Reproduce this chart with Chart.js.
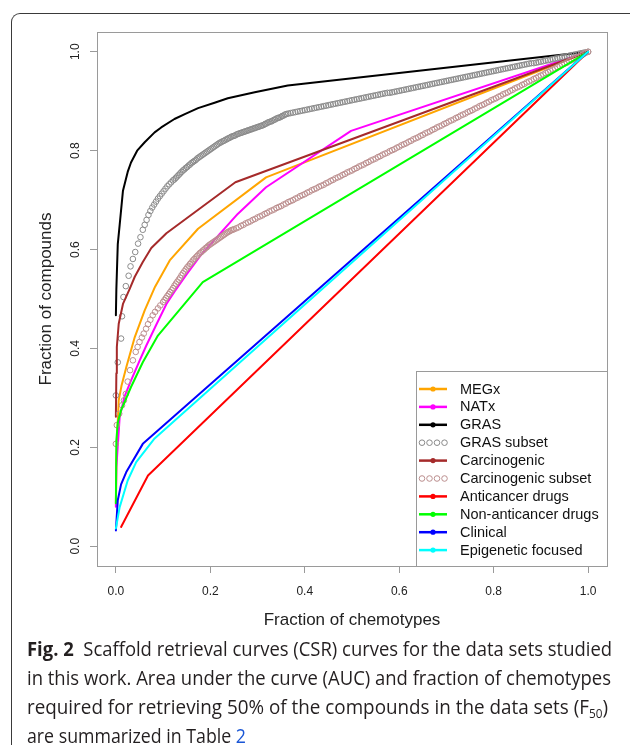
<!DOCTYPE html>
<html>
<head>
<meta charset="utf-8">
<script src="https://cdn.jsdelivr.net/npm/chart.js"></script>
<style>
  html, body { margin: 0; padding: 0; background: #fff; }
  body { width: 630px; height: 745px; position: relative; overflow: hidden; }
  #chart { position: absolute; left: 0; top: 0; }
  #frame {
    position: absolute; left: 11px; top: 13px; width: 640px; height: 760px;
    border-left: 1.5px solid #3a3a3a; border-top: 1.5px solid #3a3a3a;
    border-top-left-radius: 9px; box-sizing: border-box;
  }
  #caption {
    position: absolute; left: 27px; top: 634px; width: 700px;
    font-family: "Open Sans", sans-serif; font-size: 20px; line-height: 29px; color: #231f20;
  }
  #caption .ln { height: 29px; white-space: nowrap; }
  #caption .ln span.t { display: inline-block; transform-origin: 0 50%; }
  #caption sub { font-size: 12.5px; line-height: 0; vertical-align: -4px; }
  #caption .ref { color: #1a56d6; }
</style>
</head>
<body>
<canvas id="chart" width="630" height="640"></canvas>
<div id="frame"></div>
<div id="caption">
  <div class="ln"><span class="t" data-w="585"><b>Fig. 2</b>&nbsp; Scaffold retrieval curves (CSR) curves for the data sets studied</span></div>
  <div class="ln"><span class="t" data-w="584">in this work. Area under the curve (AUC) and fraction of chemotypes</span></div>
  <div class="ln"><span class="t" data-w="581">required for retrieving 50% of the compounds in the data sets (F<sub>50</sub>)</span></div>
  <div class="ln"><span class="t" data-w="219">are summarized in Table <span class="ref">2</span></span></div>
</div>
<script>
// axes
const xTicks = [0, 0.2, 0.4, 0.6, 0.8, 1.0];
const xTickLabels = ["0.0", "0.2", "0.4", "0.6", "0.8", "1.0"];
const yTicks = [0, 0.2, 0.4, 0.6, 0.8, 1.0];
const yTickLabels = ["0.0", "0.2", "0.4", "0.6", "0.8", "1.0"];

const seriesNames = ["MEGx", "NATx", "GRAS", "GRAS subset", "Carcinogenic", "Carcinogenic subset",
  "Anticancer drugs", "Non-anticancer drugs", "Clinical", "Epigenetic focused"];

// line series (fraction of chemotypes -> fraction of compounds)
const megxX = [0, 0.001, 0.003, 0.006, 0.012, 0.022, 0.040, 0.061, 0.083, 0.114, 0.174, 0.318, 1];
const megxY = [0.085, 0.17, 0.23, 0.295, 0.325, 0.362, 0.423, 0.477, 0.525, 0.578, 0.642, 0.746, 1];

const natxX = [0, 0.001, 0.008, 0.018, 0.032, 0.050, 0.064, 0.085, 0.107, 0.124, 0.150, 0.181, 0.258, 0.318, 0.498, 1];
const natxY = [0.08, 0.16, 0.261, 0.302, 0.335, 0.375, 0.405, 0.447, 0.49, 0.515, 0.55, 0.59, 0.672, 0.726, 0.84, 1];

const grasX = [0, 0.001, 0.004, 0.008, 0.015, 0.025, 0.032, 0.045, 0.061, 0.082, 0.096, 0.124, 0.146, 0.174, 0.209, 0.237, 0.294, 0.364, 1];
const grasY = [0.467, 0.52, 0.611, 0.65, 0.719, 0.757, 0.776, 0.80, 0.817, 0.837, 0.847, 0.864, 0.874, 0.886, 0.897, 0.906, 0.918, 0.932, 1];

const carcX = [0, 0.001, 0.002, 0.006, 0.015, 0.029, 0.040, 0.057, 0.075, 0.107, 0.253, 1];
const carcY = [0.262, 0.35, 0.403, 0.45, 0.49, 0.52, 0.545, 0.575, 0.603, 0.633, 0.736, 1];

const antiX = [0.011, 0.068, 1];
const antiY = [0.039, 0.143, 1];

const nonAntiX = [0, 0.001, 0.004, 0.011, 0.032, 0.057, 0.089, 0.184, 1];
const nonAntiY = [0.087, 0.214, 0.25, 0.275, 0.322, 0.372, 0.426, 0.534, 1];

const clinX = [0, 0.004, 0.011, 0.022, 0.057, 1];
const clinY = [0.032, 0.093, 0.125, 0.15, 0.207, 1];

const epiX = [0, 0.008, 0.025, 0.043, 0.082, 1];
const epiY = [0.036, 0.079, 0.133, 0.17, 0.218, 1];

// point series, one circle per chemotype as seen in the figure: [x, y]
const grasSubset = [
  [0, 0.305], [0.004, 0.372], [0.011, 0.42], [0.013, 0.465], [0.016, 0.504], [0.021, 0.526],
  [0.027, 0.547], [0.031, 0.566], [0.036, 0.581], [0.041, 0.595], [0.047, 0.612], [0.052, 0.625],
  [0.057, 0.64], [0.061, 0.65], [0.065, 0.66], [0.069, 0.67], [0.073, 0.678], [0.077, 0.685],
  [0.081, 0.691], [0.085, 0.697], [0.089, 0.703], [0.093, 0.708], [0.097, 0.713], [0.101, 0.718],
  [0.105, 0.723], [0.109, 0.728], [0.113, 0.732], [0.117, 0.736], [0.121, 0.74], [0.124, 0.742],
  [0.127, 0.745], [0.130, 0.748], [0.133, 0.751], [0.136, 0.754], [0.139, 0.757], [0.142, 0.76],
  [0.145, 0.762], [0.148, 0.765], [0.151, 0.767], [0.154, 0.77], [0.157, 0.772], [0.160, 0.775],
  [0.163, 0.777], [0.166, 0.779], [0.169, 0.781], [0.172, 0.784], [0.175, 0.786], [0.178, 0.788],
  [0.181, 0.79], [0.184, 0.792], [0.187, 0.794], [0.190, 0.796], [0.193, 0.798], [0.196, 0.8],
  [0.199, 0.802], [0.202, 0.804], [0.205, 0.806], [0.208, 0.808], [0.211, 0.81], [0.214, 0.812],
  [0.217, 0.814], [0.220, 0.816], [0.223, 0.817], [0.226, 0.819], [0.229, 0.82], [0.232, 0.822],
  [0.235, 0.823], [0.238, 0.825], [0.241, 0.826], [0.244, 0.828], [0.247, 0.829], [0.250, 0.83],
  [0.253, 0.831], [0.256, 0.833], [0.259, 0.834], [0.262, 0.835], [0.265, 0.836], [0.268, 0.837],
  [0.271, 0.838], [0.274, 0.839], [0.277, 0.84], [0.280, 0.841], [0.283, 0.842], [0.286, 0.843],
  [0.289, 0.844], [0.292, 0.845], [0.295, 0.846], [0.298, 0.847], [0.301, 0.848], [0.304, 0.849],
  [0.307, 0.85], [0.310, 0.851], [0.313, 0.852], [0.316, 0.854], [0.319, 0.855], [0.322, 0.857],
  [0.325, 0.858], [0.328, 0.859], [0.331, 0.86], [0.334, 0.862], [0.337, 0.863], [0.340, 0.865],
  [0.343, 0.866], [0.346, 0.867], [0.349, 0.868], [0.352, 0.87], [0.355, 0.871], [0.358, 0.873],
  [0.361, 0.874], [0.365, 0.875], [0.370, 0.876], [0.375, 0.877], [0.380, 0.878], [0.385, 0.879],
  [0.390, 0.88], [0.395, 0.881], [0.400, 0.882], [0.405, 0.883], [0.410, 0.884], [0.415, 0.885],
  [0.420, 0.886], [0.425, 0.887], [0.430, 0.888], [0.435, 0.889], [0.440, 0.89], [0.445, 0.891],
  [0.450, 0.892], [0.455, 0.893], [0.460, 0.894], [0.465, 0.895], [0.470, 0.896], [0.475, 0.897],
  [0.480, 0.898], [0.485, 0.899], [0.490, 0.9], [0.495, 0.901], [0.500, 0.902], [0.505, 0.903],
  [0.510, 0.904], [0.515, 0.905], [0.520, 0.906], [0.525, 0.907], [0.530, 0.908], [0.535, 0.909],
  [0.540, 0.91], [0.545, 0.911], [0.550, 0.912], [0.555, 0.913], [0.560, 0.914], [0.565, 0.915],
  [0.570, 0.916], [0.575, 0.917], [0.580, 0.917], [0.585, 0.918], [0.590, 0.919], [0.595, 0.92],
  [0.600, 0.921], [0.605, 0.922], [0.610, 0.923], [0.615, 0.924], [0.620, 0.925], [0.625, 0.926],
  [0.630, 0.927], [0.635, 0.928], [0.640, 0.929], [0.645, 0.93], [0.650, 0.931], [0.655, 0.932],
  [0.660, 0.933], [0.665, 0.934], [0.670, 0.935], [0.675, 0.936], [0.680, 0.937], [0.685, 0.938],
  [0.690, 0.939], [0.695, 0.94], [0.700, 0.941], [0.705, 0.942], [0.710, 0.943], [0.715, 0.944],
  [0.720, 0.945], [0.725, 0.946], [0.730, 0.947], [0.735, 0.948], [0.740, 0.949], [0.745, 0.95],
  [0.750, 0.951], [0.755, 0.952], [0.760, 0.953], [0.765, 0.954], [0.770, 0.955], [0.775, 0.956],
  [0.780, 0.957], [0.785, 0.958], [0.790, 0.959], [0.795, 0.96], [0.800, 0.961], [0.805, 0.962],
  [0.810, 0.963], [0.815, 0.964], [0.820, 0.965], [0.825, 0.966], [0.830, 0.967], [0.835, 0.968],
  [0.840, 0.969], [0.845, 0.97], [0.850, 0.971], [0.855, 0.972], [0.860, 0.973], [0.865, 0.974],
  [0.870, 0.975], [0.875, 0.976], [0.880, 0.977], [0.885, 0.977], [0.890, 0.978], [0.895, 0.979],
  [0.900, 0.98], [0.905, 0.981], [0.910, 0.982], [0.915, 0.983], [0.920, 0.984], [0.925, 0.985],
  [0.930, 0.986], [0.935, 0.987], [0.940, 0.988], [0.945, 0.989], [0.950, 0.99], [0.955, 0.991],
  [0.960, 0.992], [0.965, 0.993], [0.970, 0.994], [0.975, 0.995], [0.980, 0.996], [0.985, 0.997],
  [0.990, 0.998], [0.995, 0.999], [1, 1]
];

const carcSubset = [
  [0, 0.207], [0.002, 0.245], [0.007, 0.268], [0.013, 0.285], [0.017, 0.295], [0.021, 0.308],
  [0.025, 0.333], [0.030, 0.356], [0.036, 0.376], [0.042, 0.393], [0.046, 0.403], [0.050, 0.413],
  [0.055, 0.422], [0.059, 0.43], [0.064, 0.44], [0.068, 0.449], [0.073, 0.458], [0.078, 0.467],
  [0.083, 0.474], [0.089, 0.481], [0.094, 0.487], [0.100, 0.494], [0.103, 0.498], [0.106, 0.502],
  [0.109, 0.506], [0.112, 0.51], [0.115, 0.514], [0.118, 0.518], [0.121, 0.522], [0.124, 0.527],
  [0.127, 0.531], [0.130, 0.535], [0.133, 0.539], [0.136, 0.543], [0.139, 0.548], [0.142, 0.552],
  [0.145, 0.556], [0.148, 0.56], [0.151, 0.564], [0.154, 0.567], [0.157, 0.571], [0.160, 0.574],
  [0.163, 0.578], [0.166, 0.581], [0.169, 0.584], [0.172, 0.587], [0.175, 0.59], [0.178, 0.593],
  [0.181, 0.595], [0.184, 0.598], [0.187, 0.6], [0.190, 0.603], [0.193, 0.605], [0.196, 0.608],
  [0.199, 0.61], [0.202, 0.612], [0.205, 0.614], [0.208, 0.616], [0.211, 0.618], [0.214, 0.62],
  [0.217, 0.622], [0.220, 0.624], [0.223, 0.626], [0.226, 0.628], [0.229, 0.63], [0.232, 0.632],
  [0.235, 0.634], [0.238, 0.636], [0.241, 0.637], [0.244, 0.639], [0.247, 0.64], [0.250, 0.641],
  [0.255, 0.643], [0.260, 0.645], [0.265, 0.648], [0.270, 0.65], [0.275, 0.653], [0.280, 0.655],
  [0.285, 0.657], [0.290, 0.66], [0.295, 0.662], [0.300, 0.665], [0.305, 0.667], [0.310, 0.669],
  [0.315, 0.672], [0.320, 0.674], [0.325, 0.677], [0.330, 0.679], [0.335, 0.681], [0.340, 0.684],
  [0.345, 0.686], [0.350, 0.688], [0.355, 0.691], [0.360, 0.693], [0.365, 0.696], [0.370, 0.698],
  [0.375, 0.7], [0.380, 0.703], [0.385, 0.705], [0.390, 0.708], [0.395, 0.71], [0.400, 0.712],
  [0.405, 0.715], [0.410, 0.717], [0.415, 0.72], [0.420, 0.722], [0.425, 0.724], [0.430, 0.727],
  [0.435, 0.729], [0.440, 0.731], [0.445, 0.734], [0.450, 0.736], [0.455, 0.739], [0.460, 0.741],
  [0.465, 0.744], [0.470, 0.746], [0.475, 0.748], [0.480, 0.751], [0.485, 0.753], [0.490, 0.756],
  [0.495, 0.758], [0.500, 0.76], [0.505, 0.763], [0.510, 0.765], [0.515, 0.768], [0.520, 0.77],
  [0.525, 0.772], [0.530, 0.775], [0.535, 0.777], [0.540, 0.78], [0.545, 0.782], [0.550, 0.784],
  [0.555, 0.787], [0.560, 0.789], [0.565, 0.792], [0.570, 0.794], [0.575, 0.796], [0.580, 0.799],
  [0.585, 0.801], [0.590, 0.803], [0.595, 0.806], [0.600, 0.808], [0.605, 0.811], [0.610, 0.813],
  [0.615, 0.815], [0.620, 0.818], [0.625, 0.82], [0.630, 0.823], [0.635, 0.825], [0.640, 0.827],
  [0.645, 0.83], [0.650, 0.832], [0.655, 0.835], [0.660, 0.837], [0.665, 0.839], [0.670, 0.842],
  [0.675, 0.844], [0.680, 0.847], [0.685, 0.849], [0.690, 0.851], [0.695, 0.854], [0.700, 0.856],
  [0.705, 0.859], [0.710, 0.861], [0.715, 0.863], [0.720, 0.866], [0.725, 0.868], [0.730, 0.871],
  [0.735, 0.873], [0.740, 0.875], [0.745, 0.878], [0.750, 0.88], [0.755, 0.882], [0.760, 0.885],
  [0.765, 0.887], [0.770, 0.89], [0.775, 0.892], [0.780, 0.894], [0.785, 0.897], [0.790, 0.899],
  [0.795, 0.902], [0.800, 0.904], [0.805, 0.906], [0.810, 0.909], [0.815, 0.911], [0.820, 0.914],
  [0.825, 0.916], [0.830, 0.918], [0.835, 0.921], [0.840, 0.923], [0.845, 0.926], [0.850, 0.928],
  [0.855, 0.93], [0.860, 0.933], [0.865, 0.935], [0.870, 0.938], [0.875, 0.94], [0.880, 0.942],
  [0.885, 0.945], [0.890, 0.947], [0.895, 0.95], [0.900, 0.952], [0.905, 0.954], [0.910, 0.957],
  [0.915, 0.959], [0.920, 0.962], [0.925, 0.964], [0.930, 0.966], [0.935, 0.969], [0.940, 0.971],
  [0.945, 0.974], [0.950, 0.976], [0.955, 0.978], [0.960, 0.981], [0.965, 0.983], [0.970, 0.986],
  [0.975, 0.988], [0.980, 0.99], [0.985, 0.993], [0.990, 0.995], [0.995, 0.998], [1, 1]
];

const colors = ["#FFA500", "#FF00FF", "#000000", "#8a8a8a", "#A52A2A", "#BC8F8F",
  "#FF0000", "#00FF00", "#0000FF", "#00FFFF"];

const FONT = "'Liberation Sans', Arial, sans-serif";
Chart.defaults.font.family = FONT;

function xy(xs, ys) {
  return xs.map((x, i) => ({ x: x, y: ys[i] }));
}
function pairs(p) {
  return p.map(d => ({ x: d[0], y: d[1] }));
}

const seriesData = [
  xy(megxX, megxY), xy(natxX, natxY), xy(grasX, grasY), pairs(grasSubset),
  xy(carcX, carcY), pairs(carcSubset), xy(antiX, antiY), xy(nonAntiX, nonAntiY),
  xy(clinX, clinY), xy(epiX, epiY)
];
const isPoints = [false, false, false, true, false, true, false, false, false, false];

const datasets = seriesNames.map((name, i) => {
  const base = {
    label: name,
    data: seriesData[i],
    borderColor: colors[i],
    order: seriesNames.length - i
  };
  if (isPoints[i]) {
    return Object.assign(base, {
      showLine: false,
      pointStyle: "circle",
      pointRadius: 2.8,
      pointBorderWidth: 1,
      pointBorderColor: colors[i],
      pointBackgroundColor: "rgba(0,0,0,0)"
    });
  }
  return Object.assign(base, {
    showLine: true,
    borderWidth: 2,
    pointRadius: 0,
    tension: 0,
    borderJoinStyle: "round",
    borderCapStyle: "round"
  });
});

// plot box + legend box drawn like base R
const boxPlugin = {
  id: "box",
  afterDraw(chart) {
    const { ctx, chartArea: a } = chart;
    ctx.save();
    ctx.strokeStyle = "#9a9a9a";
    ctx.lineWidth = 1;
    ctx.strokeRect(a.left + 0.5, a.top + 0.5, a.right - a.left, a.bottom - a.top);

    // legend
    const w = 191, h = 195;
    const x0 = a.right - w, y0 = a.bottom - h;
    ctx.fillStyle = "#fff";
    ctx.fillRect(x0, y0, w, h);
    ctx.strokeRect(x0 + 0.5, y0 + 0.5, w, h);
    ctx.font = "14.5px " + FONT;
    ctx.textBaseline = "middle";
    chart.data.datasets.forEach((ds, i) => {
      const y = y0 + 18 + i * 17.9;
      if (isPoints[i]) {
        ctx.strokeStyle = ds.borderColor;
        ctx.lineWidth = 1;
        [6, 13.5, 21, 28.5].forEach(dx => {
          ctx.beginPath();
          ctx.arc(x0 + dx, y, 2.8, 0, Math.PI * 2);
          ctx.stroke();
        });
      } else {
        ctx.strokeStyle = ds.borderColor;
        ctx.lineWidth = 2.5;
        ctx.beginPath();
        ctx.moveTo(x0 + 3, y);
        ctx.lineTo(x0 + 31, y);
        ctx.stroke();
        ctx.fillStyle = ds.borderColor;
        ctx.beginPath();
        ctx.arc(x0 + 17, y, 2.6, 0, Math.PI * 2);
        ctx.fill();
      }
      ctx.fillStyle = "#111";
      ctx.fillText(ds.label, x0 + 44, y + 0.5);
    });
    ctx.restore();
  }
};

new Chart(document.getElementById("chart"), {
  type: "scatter",
  data: { datasets: datasets },
  options: {
    responsive: false,
    animation: false,
    devicePixelRatio: 1,
    layout: { padding: { left: 0, top: 32, right: 23, bottom: 0 } },
    plugins: { legend: { display: false }, tooltip: { enabled: false } },
    scales: {
      x: {
        type: "linear",
        min: -0.04,
        max: 1.04,
        afterBuildTicks: s => { s.ticks = xTicks.map(v => ({ value: v })); },
        afterFit: s => { s.height = 74; },
        ticks: {
          autoSkip: false,
          maxRotation: 0,
          padding: 11,
          color: "#222",
          font: { size: 12 },
          callback: (v, i) => xTickLabels[i]
        },
        grid: { drawOnChartArea: false, drawTicks: true, tickLength: 7, tickColor: "#9a9a9a" },
        border: { display: false },
        title: {
          display: true,
          text: "Fraction of chemotypes",
          color: "#222",
          font: { size: 17 },
          padding: { top: 0, bottom: 9 }
        }
      },
      y: {
        type: "linear",
        min: -0.04,
        max: 1.04,
        afterBuildTicks: s => { s.ticks = yTicks.map(v => ({ value: v })); },
        afterFit: s => { s.width = 97; },
        ticks: {
          autoSkip: false,
          minRotation: 90,
          maxRotation: 90,
          crossAlign: "center",
          padding: 6,
          color: "#222",
          font: { size: 12 },
          callback: (v, i) => yTickLabels[i]
        },
        grid: { drawOnChartArea: false, drawTicks: true, tickLength: 7, tickColor: "#9a9a9a" },
        border: { display: false },
        title: {
          display: true,
          text: "Fraction of compounds",
          color: "#222",
          font: { size: 17 },
          padding: { top: 36, bottom: 0 }
        }
      }
    }
  },
  plugins: [boxPlugin]
});

// squeeze each caption line to the width it has in the figure
document.querySelectorAll("#caption span.t").forEach(el => {
  const target = parseFloat(el.dataset.w);
  const natural = el.getBoundingClientRect().width;
  el.style.transform = "scaleX(" + (target / natural).toFixed(4) + ")";
});
</script>
</body>
</html>
